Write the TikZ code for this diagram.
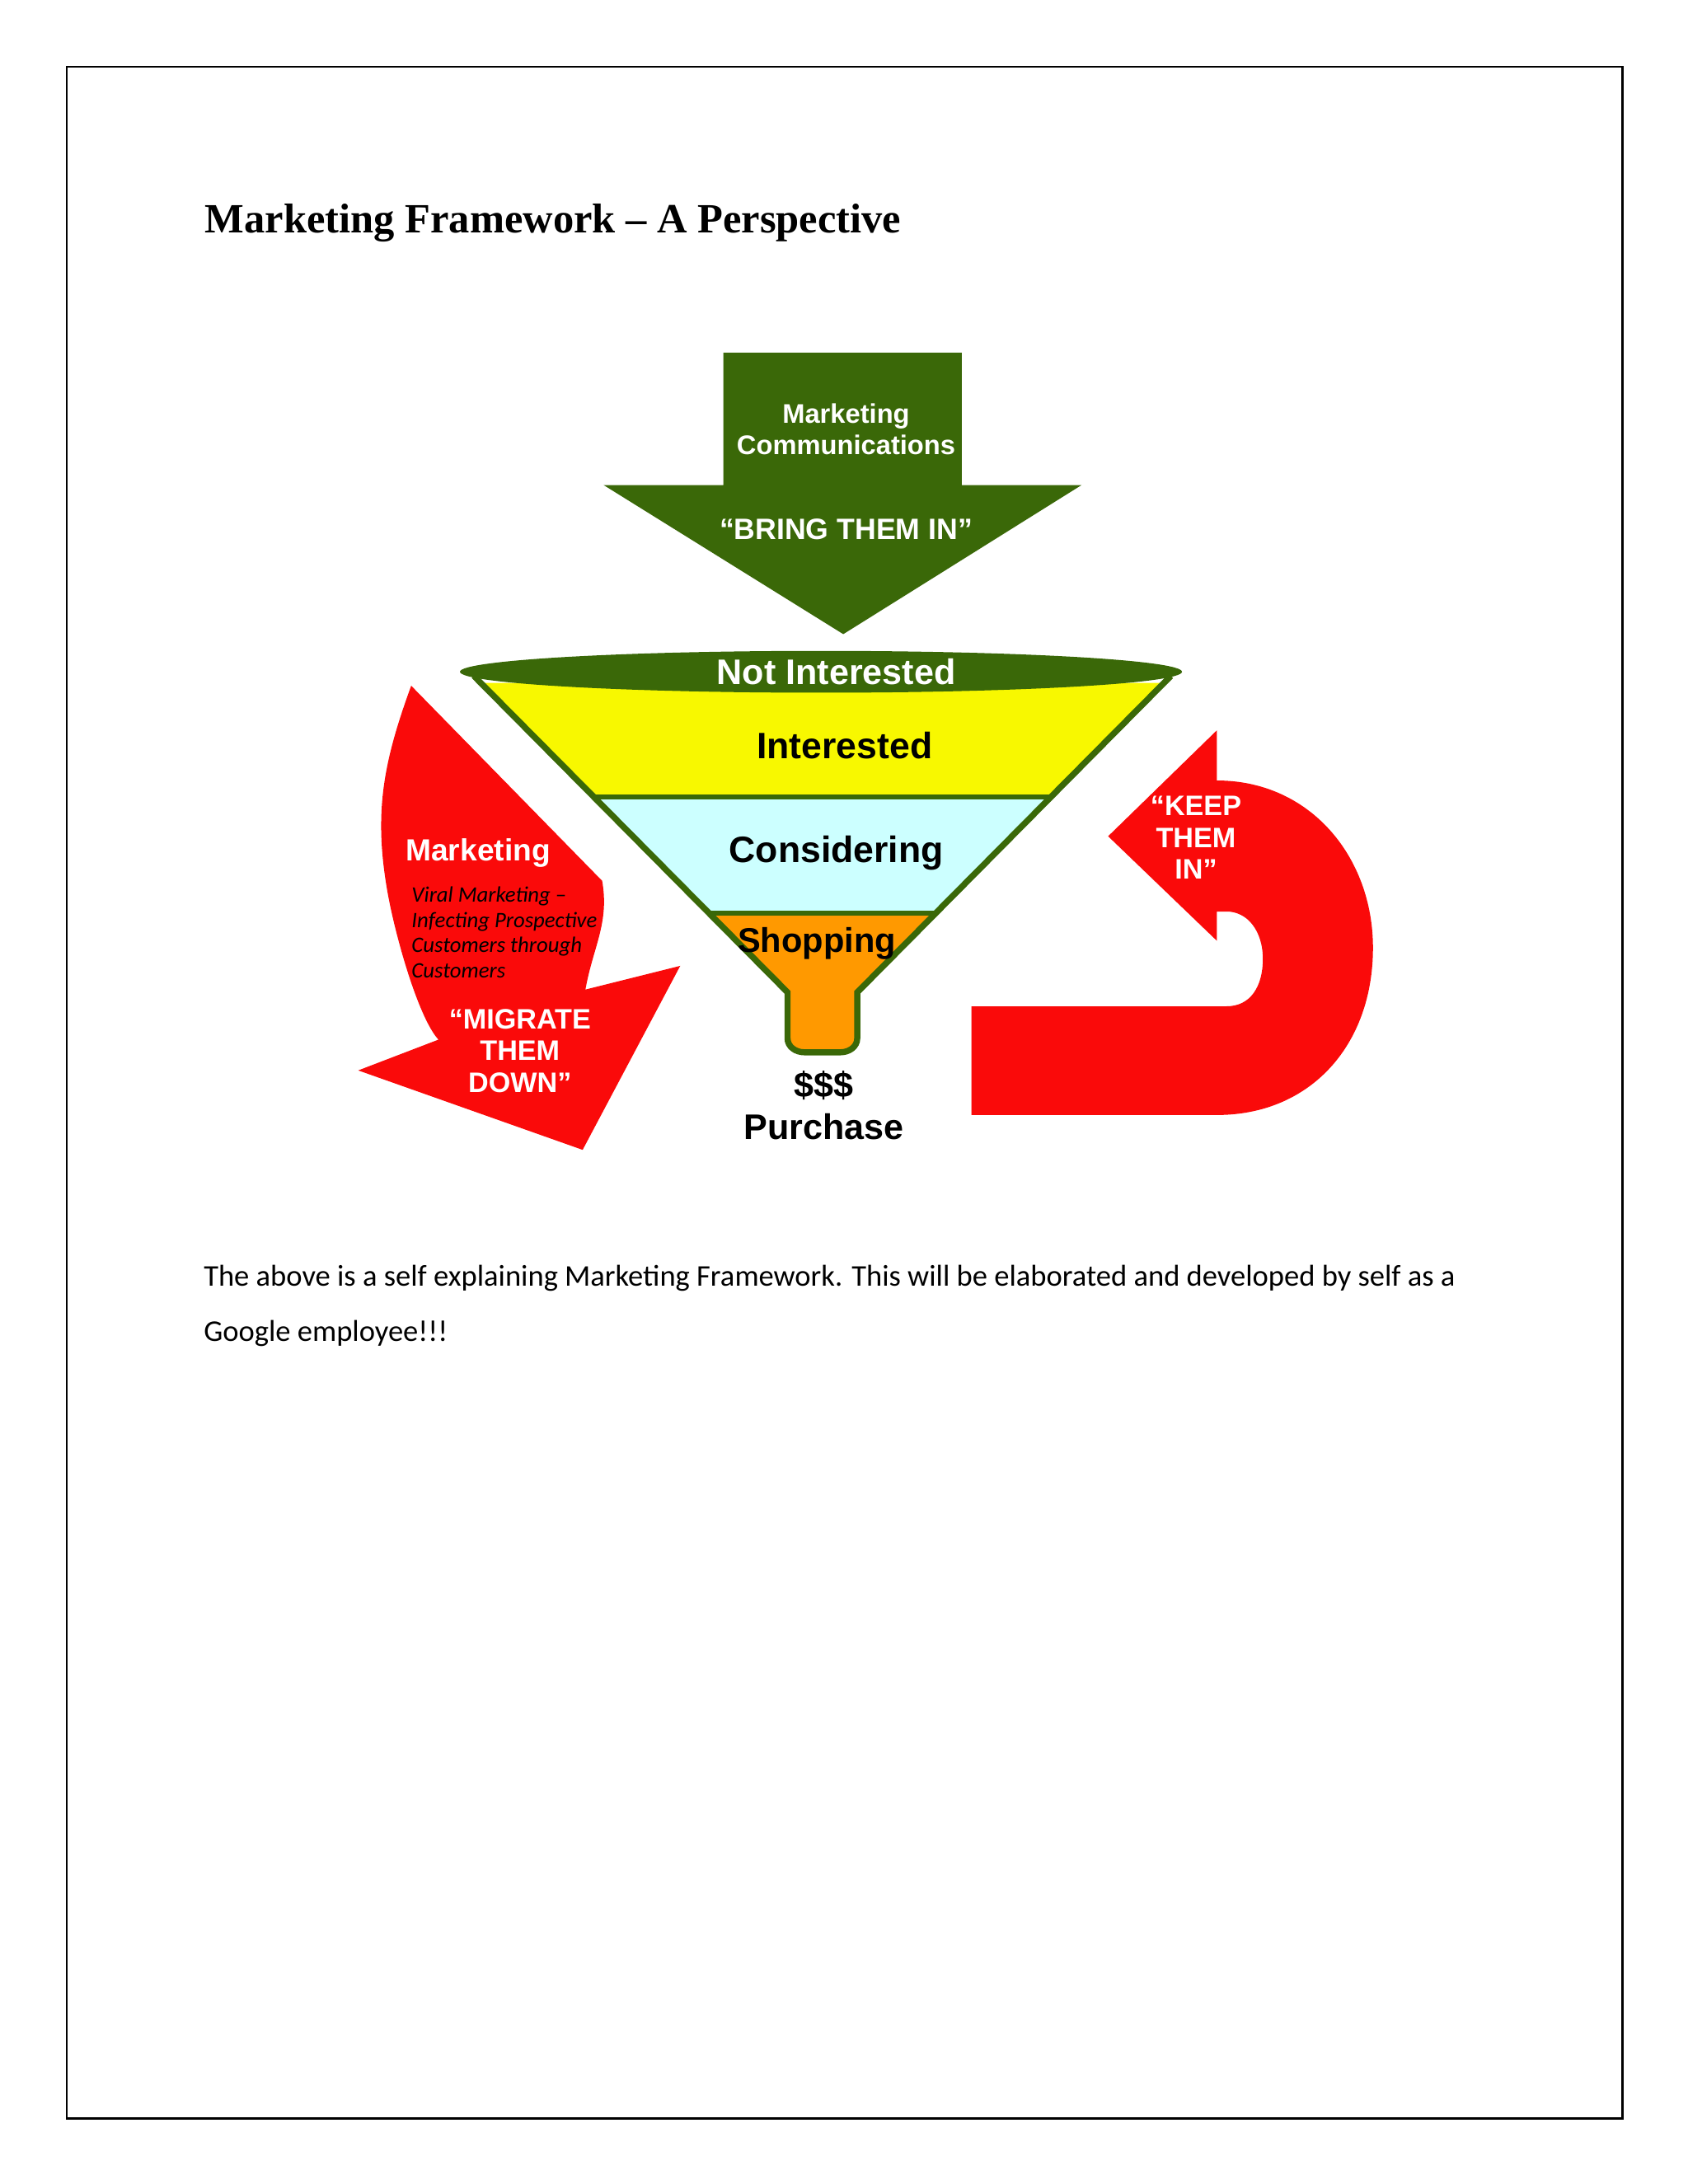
\documentclass[tikz,border=0pt]{standalone}
\usepackage{fontspec}
\setmainfont{Carlito}
\newfontfamily\ttl{Liberation Serif}
\newfontfamily\arl{Liberation Sans}
\begin{document}
\begin{tikzpicture}[x=0.02cm,y=-0.02cm,
  wt/.style={text=white,font=\arl\bfseries\fontsize{12}{14}\selectfont,align=center},
  bk/.style={text=black,font=\arl\bfseries\fontsize{15}{17}\selectfont},
  body/.style={anchor=west,font=\fontsize{12.3}{14}\selectfont}]
\definecolor{gr}{RGB}{58,104,8}
\definecolor{rd}{RGB}{250,10,10}
\definecolor{ye}{RGB}{248,248,0}
\definecolor{cy}{RGB}{204,255,255}
\definecolor{og}{RGB}{255,153,0}
\useasboundingbox (0,0) rectangle (1211,1567);
\draw[line width=0.8pt] (48,48) rectangle (1164,1520);
\node[anchor=west,font=\ttl\bfseries\fontsize{17}{20}\selectfont] (title) at (141,160) {Marketing Framework – A Perspective};
% green arrow
\fill[gr] (519,253) -- (690,253) -- (690,348) -- (776,348) -- (605,455) -- (433,348) -- (519,348) -- cycle;
\node[wt,font=\arl\bfseries\fontsize{11}{13}\selectfont] (mc) at (607,308) {Marketing\\Communications};
\node[wt] (bring) at (607,380) {“BRING THEM IN”};
% funnel
\fill[ye] (345,490) -- (835,490) -- (753,572) -- (427,572) -- cycle;
\fill[cy] (427,572) -- (753,572) -- (671,655) -- (510,655) -- cycle;
\fill[og] (510,655) -- (671,655) -- (615,712) -- (615,745) to[out=-90,in=0] (603,755) -- (577,755) to[out=180,in=-90] (565,745) -- (565,712) -- cycle;
\draw[gr,line width=2.5pt] (340,485) -- (565,712) -- (565,745) to[out=-90,in=180] (577,755) -- (603,755) to[out=0,in=-90] (615,745) -- (615,712) -- (840,485);
\draw[gr,line width=2pt] (427,572) -- (753,572) (510,655) -- (671,655);
\fill[gr] (589,482) ellipse (259 and 15);
\node[wt,font=\arl\bfseries\fontsize{14.5}{17}\selectfont] (ni) at (600,482) {Not Interested};
\node[bk] (int) at (606,535) {Interested};
\node[bk] (con) at (600,612) {Considering};
\node[bk,font=\arl\bfseries\fontsize{14}{17}\selectfont] (sho) at (586,677) {Shopping};
\node[bk,align=center,font=\arl\bfseries\fontsize{14.5}{17}\selectfont] (pur) at (591,793) {\$\$\$\\Purchase};
% left red arrow
\fill[rd] (295,492) -- (432,632) to[out=-80,in=80] (420,710) -- (488,693) -- (418,825) -- (257,768) -- (330,740)
  to[out=-110,in=-80] (278,640) to[out=100,in=-110] (295,492) -- cycle;
\node[wt,font=\arl\bfseries\fontsize{12.5}{14}\selectfont] (mk) at (343,612) {Marketing};
\node[anchor=north west,align=left,inner sep=0pt,font=\itshape\fontsize{9}{10.3}\selectfont] (viral) at (295,636) {Viral Marketing –\\Infecting Prospective\\Customers through\\Customers};
\node[wt,font=\arl\bfseries\fontsize{11.5}{13}\selectfont] (mig) at (373,754) {“MIGRATE\\THEM\\DOWN”};
% right red arrow
\fill[rd] (873,560) .. controls (940,560) and (985,615) .. (985,680) .. controls (985,750) and (940,800) .. (873,800)
  -- (697,800) -- (697,722) -- (880,722) .. controls (897,722) and (906,708) .. (906,688) .. controls (906,668) and (895,654) .. (880,654)
  -- (873,654) -- (873,675) -- (795,600) -- (873,524) -- cycle;
\node[wt,font=\arl\bfseries\fontsize{11.5}{13}\selectfont] (keep) at (858,601) {“KEEP\\THEM\\IN”};
% body
\node[body] (b1) at (140,917) {The above is a self explaining Marketing Framework. This will be elaborated and developed by self as a};
\node[body] (b2) at (140,957) {Google employee!!!};
\end{tikzpicture}
\end{document}
